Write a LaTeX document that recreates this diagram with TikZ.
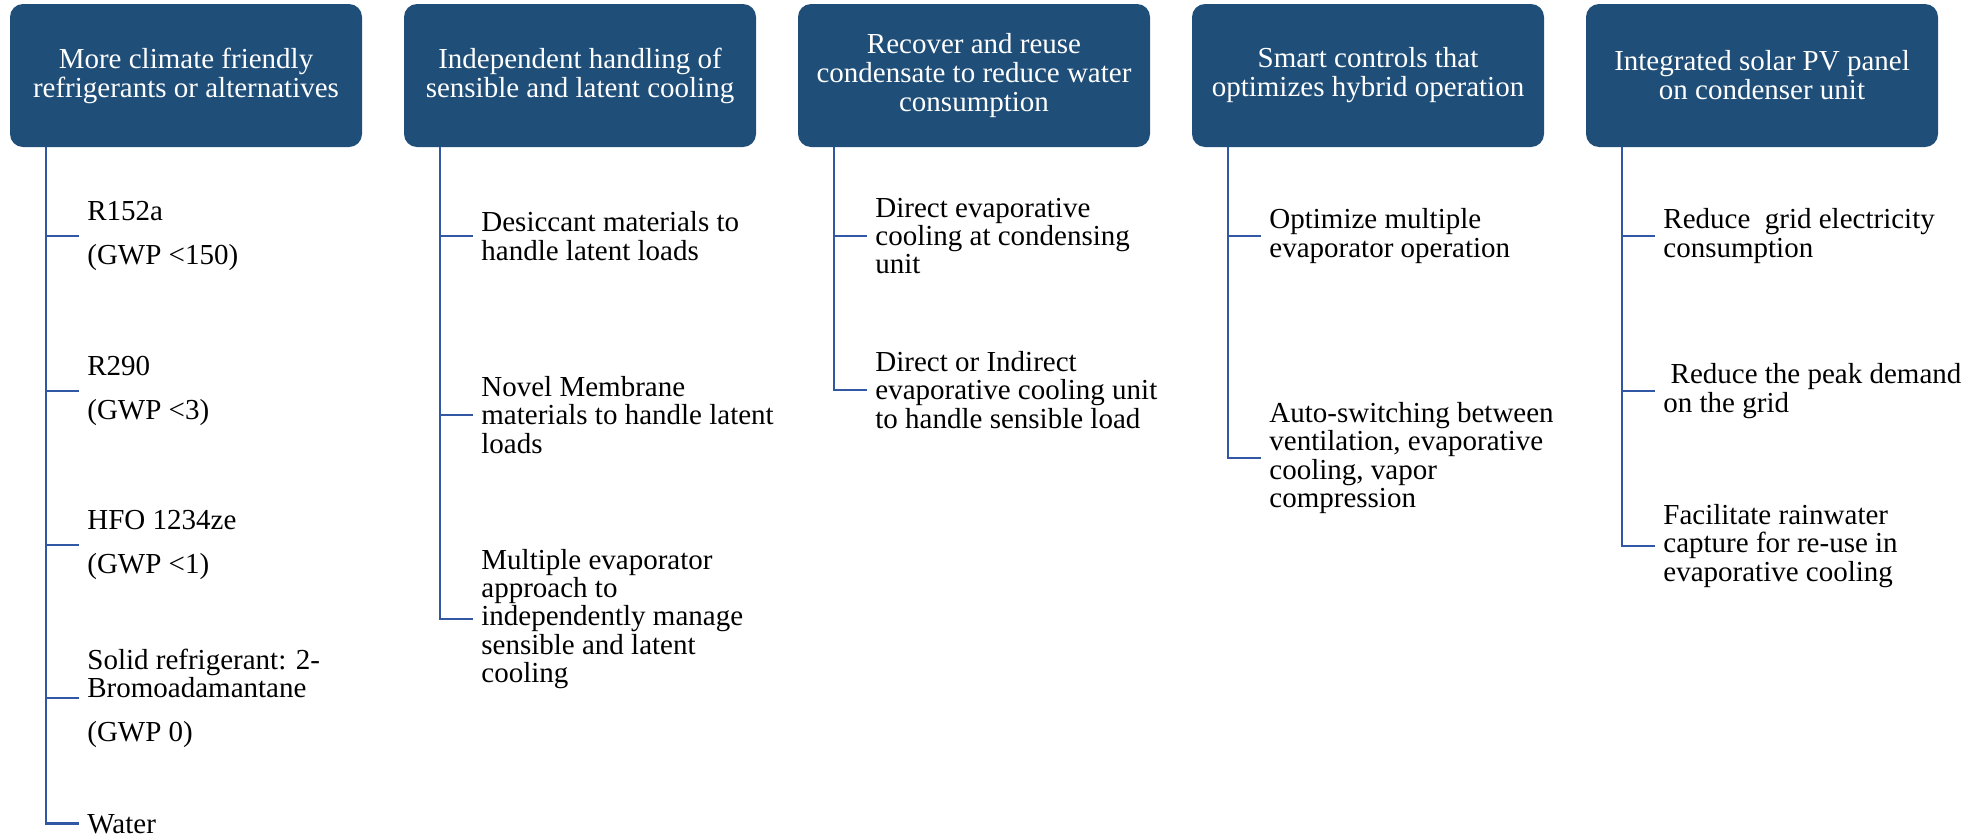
\documentclass[tikz,border=0pt]{standalone}
\usepackage{fontspec}
\setmainfont{Liberation Serif}
\definecolor{boxblue}{RGB}{31,78,121}
\definecolor{lineblue}{RGB}{50,88,165}
\tikzstyle{headbox} = [rectangle, rounded corners=6.5pt, minimum width=176pt, minimum height=71.5pt, align=center, fill=boxblue, text=white, font=\fontsize{14.5}{14.5}\selectfont]
\tikzstyle{leaf} = [anchor=west, align=left, inner xsep=4pt, inner ysep=0pt, font=\fontsize{14.5}{14.2}\selectfont]
\tikzstyle{branch} = [draw=lineblue, line width=1.4pt]

\begin{document}
\begin{tikzpicture}[x=0.5pt, y=-0.5pt]

  \useasboundingbox (0,0) rectangle (1979,836);

  % Header boxes
  \node (refr) at (186,75.5) [headbox] {More climate friendly\\refrigerants or alternatives};
  \node (hand) at (580,75.5) [headbox] {Independent handling of\\sensible and latent cooling};
  \node (cond) at (974,75.5) [headbox] {Recover and reuse\\condensate to reduce water\\consumption};
  \node (ctrl) at (1368,75.5) [headbox] {Smart controls that\\optimizes hybrid operation};
  \node (solar) at (1762,75.5) [headbox] {Integrated solar PV panel\\on condenser unit};

  % Trunk start points under the boxes
  \coordinate (trunk1) at (46,147);
  \coordinate (trunk2) at (440,147);
  \coordinate (trunk3) at (834,147);
  \coordinate (trunk4) at (1228,147);
  \coordinate (trunk5) at (1622,147);

  % Column 1: refrigerants
  \node (r152a) at (79,236) [leaf] {R152a\\[7.5pt](GWP <150)};
  \node (r290) at (79,391) [leaf] {R290\\[7.5pt](GWP <3)};
  \node (hfo) at (79,545) [leaf] {HFO 1234ze\\[7.5pt](GWP <1)};
  \node (solid) at (79,698) [leaf] {Solid refrigerant: 2-\\Bromoadamantane\\[7.5pt](GWP 0)};
  \node (water) at (79,833) [leaf, anchor=base west] {Water};

  % Column 2: sensible and latent
  \node (desic) at (473,236) [leaf] {Desiccant materials to\\handle latent loads};
  \node (membr) at (473,415) [leaf] {Novel Membrane\\materials to handle latent\\loads};
  \node (multi) at (473,619) [leaf] {Multiple evaporator\\approach to\\independently manage\\sensible and latent\\cooling};

  % Column 3: condensate
  \node (direvap) at (867,236) [leaf] {Direct evaporative\\cooling at condensing\\unit};
  \node (indevap) at (867,390) [leaf] {Direct or Indirect\\evaporative cooling unit\\to handle sensible load};

  % Column 4: smart controls
  \node (optim) at (1261,236) [leaf] {Optimize multiple\\evaporator operation};
  \node (autosw) at (1261,458) [leaf] {Auto-switching between\\ventilation, evaporative\\cooling, vapor\\compression};

  % Column 5: solar PV
  \node (gridcons) at (1655,236) [leaf] {Reduce\ \ grid electricity\\consumption};
  \node (peak) at (1655,391) [leaf] {\ Reduce the peak demand\\on the grid};
  \node (rain) at (1655,546) [leaf] {Facilitate rainwater\\capture for re-use in\\evaporative cooling};

  % Branches from column 1
  \draw[branch] (trunk1) |- (r152a.west);
  \draw[branch] (trunk1) |- (r290.west);
  \draw[branch] (trunk1) |- (hfo.west);
  \draw[branch] (trunk1) |- (solid.west);
  \draw[branch] (trunk1) |- (water.west);

  % Branches from column 2
  \draw[branch] (trunk2) |- (desic.west);
  \draw[branch] (trunk2) |- (membr.west);
  \draw[branch] (trunk2) |- (multi.west);

  % Branches from column 3
  \draw[branch] (trunk3) |- (direvap.west);
  \draw[branch] (trunk3) |- (indevap.west);

  % Branches from column 4
  \draw[branch] (trunk4) |- (optim.west);
  \draw[branch] (trunk4) |- (autosw.west);

  % Branches from column 5
  \draw[branch] (trunk5) |- (gridcons.west);
  \draw[branch] (trunk5) |- (peak.west);
  \draw[branch] (trunk5) |- (rain.west);

\end{tikzpicture}
\end{document}
